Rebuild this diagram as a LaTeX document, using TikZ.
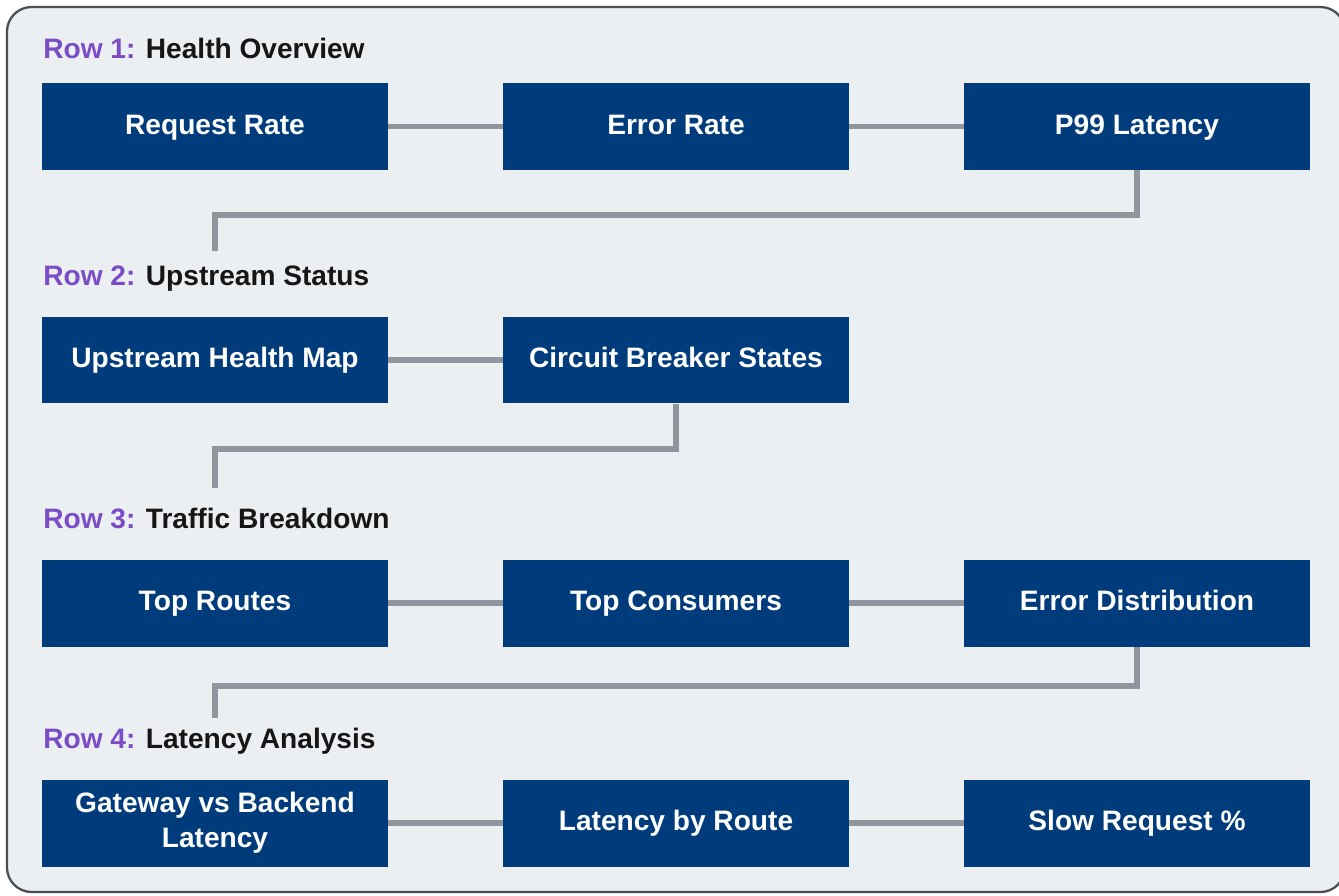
\documentclass[tikz,border=0pt]{standalone}
\usepackage{fontspec}
\setmainfont{Liberation Sans}
\usetikzlibrary{calc}

\definecolor{navy}{HTML}{003B7B}
\definecolor{bggray}{HTML}{ECEFF2}
\definecolor{framegray}{HTML}{4A4F56}
\definecolor{linkgray}{HTML}{8F969E}
\definecolor{rowpurple}{HTML}{7A4CC6}
\definecolor{headtext}{HTML}{161616}

\tikzset{
  boxbase/.style={fill=navy, text=white, minimum width=6.92cm, minimum height=1.74cm,
    inner sep=0pt, align=center, font=\bfseries\fontsize{16}{20}\selectfont},
  box/.style={boxbase, text height=12pt, text depth=3.4pt},
  link/.style={draw=linkgray, line width=3.3pt},
  rowhead/.style={anchor=base west, inner sep=0pt, text=headtext,
    font=\bfseries\fontsize{16}{20}\selectfont}
}

\begin{document}
\begin{tikzpicture}[x=0.02cm, y=-0.02cm]
    \def\xa{215}
    \def\xb{676}
    \def\xc{1137}

    \def\ya{126.5}
    \def\yb{360}
    \def\yc{603}
    \def\yd{823}

    \useasboundingbox (0,0) rectangle (1339,896);
    \fill[white] (0,0) rectangle (1339,896);
    \draw[framegray, line width=1.3pt, fill=bggray, rounded corners=14pt] (7,7) rectangle (1345,892);

    % row headers
    \node[rowhead] (h1) at (43,58) {\textcolor{rowpurple}{Row 1:} Health Overview};
    \node[rowhead] (h2) at (43,285) {\textcolor{rowpurple}{Row 2:} Upstream Status};
    \node[rowhead] (h3) at (43,528) {\textcolor{rowpurple}{Row 3:} Traffic Breakdown};
    \node[rowhead] (h4) at (43,748) {\textcolor{rowpurple}{Row 4:} Latency Analysis};

    % row 1
    \node[box] (reqrate) at (\xa,\ya) {Request Rate};
    \node[box] (errrate) at (\xb,\ya) {Error Rate};
    \node[box] (p99) at (\xc,\ya) {P99 Latency};

    % row 2
    \node[box] (healthmap) at (\xa,\yb) {Upstream Health Map};
    \node[box] (breaker) at (\xb,\yb) {Circuit Breaker States};

    % row 3
    \node[box] (routes) at (\xa,\yc) {Top Routes};
    \node[box] (consumers) at (\xb,\yc) {Top Consumers};
    \node[box] (errdist) at (\xc,\yc) {Error Distribution};

    % row 4
    \node[boxbase] (gwlat) at (\xa,\yd) {Gateway vs Backend\\Latency};
    \node[box] (routelat) at (\xb,\yd) {Latency by Route};
    \node[box] (slowreq) at (\xc,\yd) {Slow Request \%};

    \draw[link] (reqrate) -- (errrate);
    \draw[link] (errrate) -- (p99);
    \draw[link] (healthmap) -- (breaker);
    \draw[link] (routes) -- (consumers);
    \draw[link] (consumers) -- (errdist);
    \draw[link] (gwlat) -- (routelat);
    \draw[link] (routelat) -- (slowreq);

    % drops between rows
    \coordinate (drop1) at (\xa,251);
    \coordinate (drop2) at (\xa,488);
    \coordinate (drop3) at (\xa,718);
    \draw[link] (p99.south) -- (p99.south |- 0,215) -| (drop1);
    \draw[link] (breaker.south) -- (breaker.south |- 0,449) -| (drop2);
    \draw[link] (errdist.south) -- (errdist.south |- 0,686) -| (drop3);
\end{tikzpicture}
\end{document}
